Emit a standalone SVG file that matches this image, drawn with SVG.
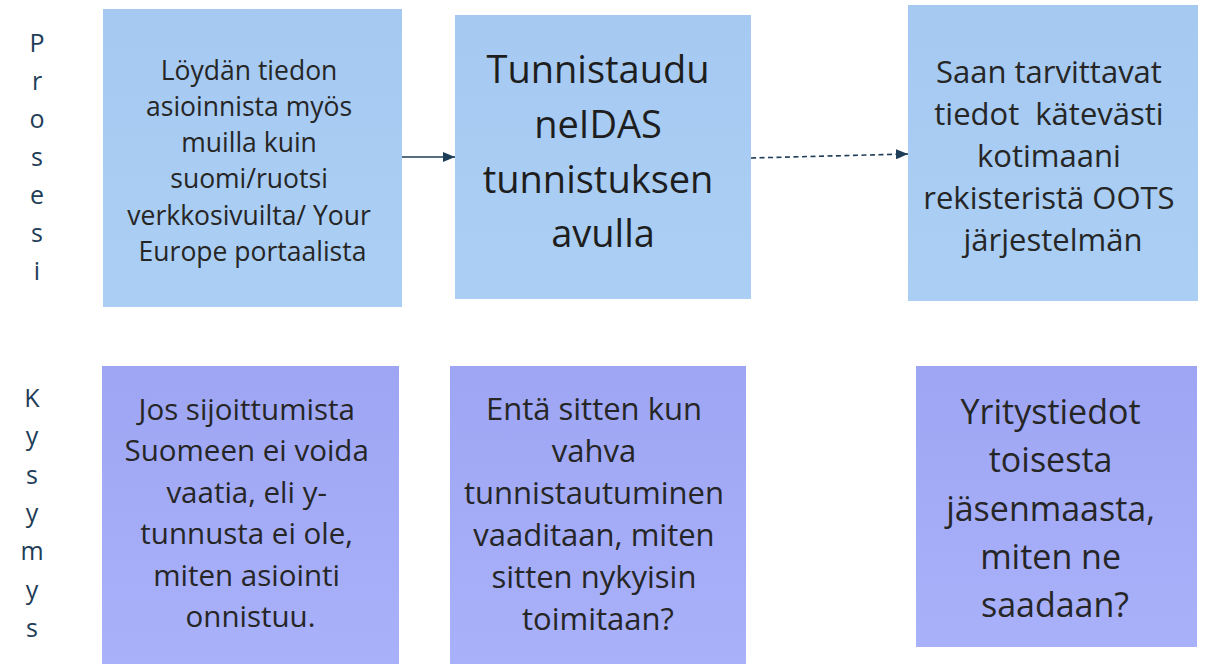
<svg xmlns="http://www.w3.org/2000/svg" width="1206" height="664" viewBox="0 0 1206 664">
  <defs>
    <linearGradient id="gTop" x1="0" y1="0" x2="0" y2="1">
      <stop offset="0" stop-color="#A5C9F1"/>
      <stop offset="1" stop-color="#ABCFF4"/>
    </linearGradient>
    <linearGradient id="gBot" x1="0" y1="0" x2="0" y2="1">
      <stop offset="0" stop-color="#9EA6F4"/>
      <stop offset="1" stop-color="#A9B1FA"/>
    </linearGradient>
    <marker id="ah" viewBox="0 0 12 10" refX="12" refY="5" markerWidth="12" markerHeight="10" markerUnits="userSpaceOnUse" orient="auto">
      <path d="M0,0 L12,5 L0,10 Z" fill="#1E3D58"/>
    </marker>
    <style>
      .top { fill: url(#gTop); }
      .bot { fill: url(#gBot); }
      .t { font-family: "Open Sans", "Noto Sans", "DejaVu Sans", sans-serif; fill: #262626; text-anchor: middle; }
      .lbl { font-family: "Open Sans", "Noto Sans", "DejaVu Sans", sans-serif; fill: #1E3D58; font-size: 25px; text-anchor: middle; }
      .conn { stroke: #1E3D58; stroke-width: 1.6; fill: none; }
    </style>
  </defs>
  <rect width="1206" height="664" fill="#FFFFFF"/>

  <g id="label-prosesi">
    <text class="lbl" x="37" y="52">P</text>
    <text class="lbl" x="37" y="90">r</text>
    <text class="lbl" x="37" y="128">o</text>
    <text class="lbl" x="37" y="166">s</text>
    <text class="lbl" x="37" y="204">e</text>
    <text class="lbl" x="37" y="242">s</text>
    <text class="lbl" x="37" y="280">i</text>
  </g>
  <g id="label-kysymys">
    <text class="lbl" x="32" y="407">K</text>
    <text class="lbl" x="32" y="445">y</text>
    <text class="lbl" x="32" y="484">s</text>
    <text class="lbl" x="32" y="522">y</text>
    <text class="lbl" x="32" y="560">m</text>
    <text class="lbl" x="32" y="599">y</text>
    <text class="lbl" x="32" y="637">s</text>
  </g>

  <g id="node-loydan">
    <rect class="top" x="103" y="9" width="299" height="298"/>
    <text class="t" font-size="26.5">
      <tspan x="252.5" y="80">Löydän tiedon</tspan>
      <tspan x="252.5" y="116">asioinnista myös</tspan>
      <tspan x="252.5" y="152">muilla kuin</tspan>
      <tspan x="252.5" y="188">suomi/ruotsi</tspan>
      <tspan x="252.5" y="225">verkkosivuilta/ Your</tspan>
      <tspan x="252.5" y="261">Europe portaalista</tspan>
    </text>
  </g>

  <g id="node-tunnistaudu">
    <rect class="top" x="455" y="15" width="296" height="284"/>
    <text class="t" font-size="38" style="fill:#1E1E1E">
      <tspan x="603" y="83">Tunnistaudu</tspan>
      <tspan x="603" y="138">neIDAS</tspan>
      <tspan x="603" y="193">tunnistuksen</tspan>
      <tspan x="603" y="247">avulla</tspan>
    </text>
  </g>

  <g id="node-saan">
    <rect class="top" x="908" y="5" width="290" height="296"/>
    <text class="t" font-size="31">
      <tspan x="1053" y="83">Saan tarvittavat</tspan>
      <tspan x="1053" y="125">tiedot&#160; kätevästi</tspan>
      <tspan x="1053" y="167">kotimaani</tspan>
      <tspan x="1053" y="209">rekisteristä OOTS</tspan>
      <tspan x="1053" y="251">järjestelmän</tspan>
    </text>
  </g>

  <g id="node-jos">
    <rect class="bot" x="102" y="366" width="297" height="298"/>
    <text class="t" font-size="29.5">
      <tspan x="250.5" y="420">Jos sijoittumista</tspan>
      <tspan x="250.5" y="461">Suomeen ei voida</tspan>
      <tspan x="250.5" y="503">vaatia, eli y-</tspan>
      <tspan x="250.5" y="544">tunnusta ei ole,</tspan>
      <tspan x="250.5" y="586">miten asiointi</tspan>
      <tspan x="250.5" y="627">onnistuu.</tspan>
    </text>
  </g>

  <g id="node-enta">
    <rect class="bot" x="450" y="366" width="296" height="298"/>
    <text class="t" font-size="31">
      <tspan x="598" y="420">Entä sitten kun</tspan>
      <tspan x="598" y="462">vahva</tspan>
      <tspan x="598" y="504">tunnistautuminen</tspan>
      <tspan x="598" y="546">vaaditaan, miten</tspan>
      <tspan x="598" y="588">sitten nykyisin</tspan>
      <tspan x="598" y="630">toimitaan?</tspan>
    </text>
  </g>

  <g id="node-yritystiedot">
    <rect class="bot" x="916" y="366" width="281" height="281"/>
    <text class="t" font-size="34">
      <tspan x="1055" y="424">Yritystiedot</tspan>
      <tspan x="1055" y="472">toisesta</tspan>
      <tspan x="1055" y="521">jäsenmaasta,</tspan>
      <tspan x="1055" y="569">miten ne</tspan>
      <tspan x="1055" y="617">saadaan?</tspan>
    </text>
  </g>

  <g id="connectors">
    <line class="conn" x1="402" y1="157" x2="455" y2="157" marker-end="url(#ah)"/>
    <line class="conn" x1="751" y1="158" x2="908" y2="154" stroke-dasharray="5,3.5" marker-end="url(#ah)"/>
  </g>
</svg>
